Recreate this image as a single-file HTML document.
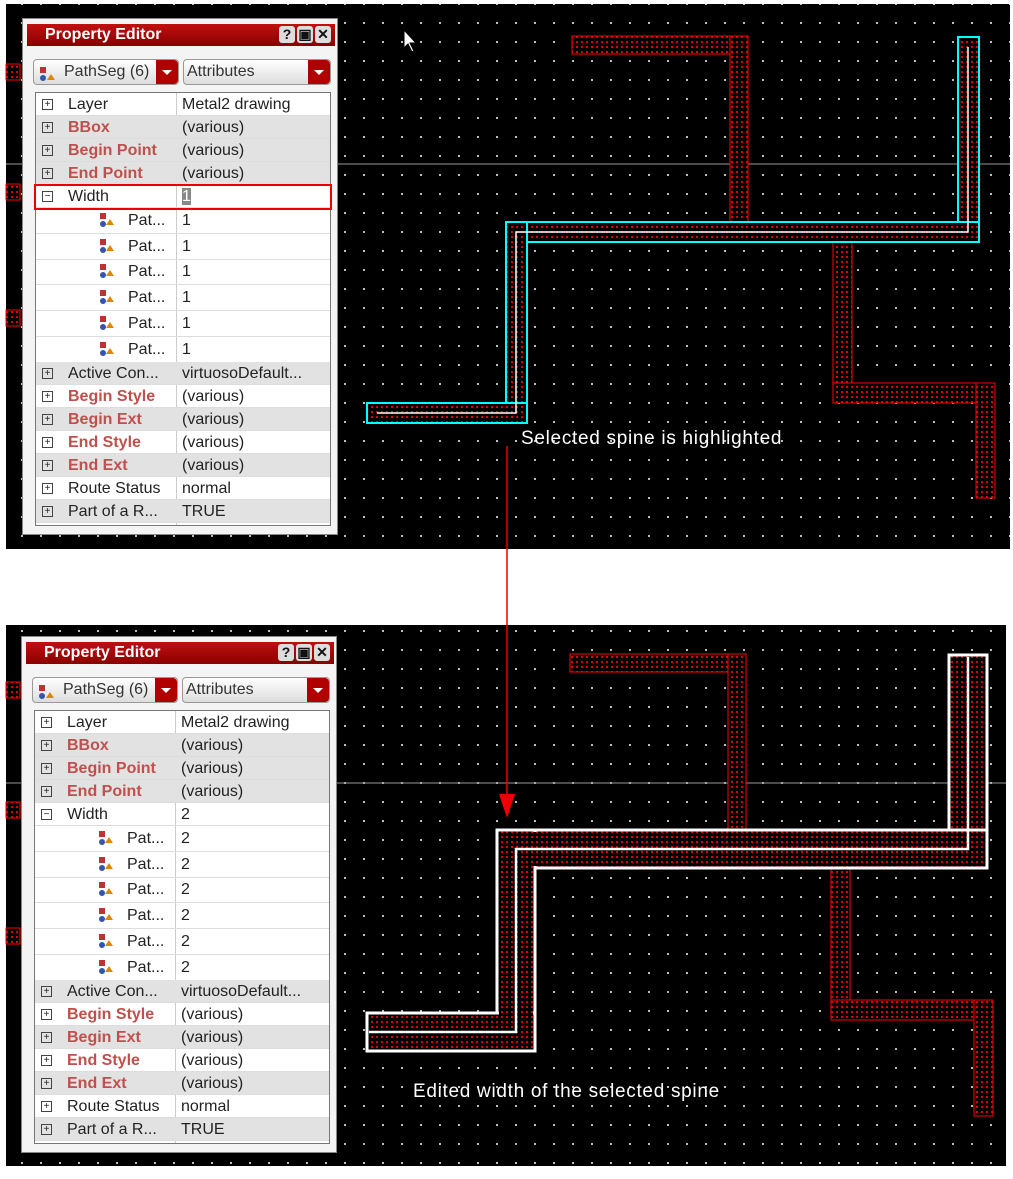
<!DOCTYPE html>
<html><head><meta charset="utf-8"><style>
body{margin:0;background:#fff;width:1013px;height:1179px;position:relative;overflow:hidden;font-family:"Liberation Sans",sans-serif}
svg.bg{position:absolute;left:0;top:0}
.panel{position:absolute;width:316px;height:517px;background:#f4f4f4;border:1px solid #888;box-sizing:border-box}
.title{position:absolute;left:4px;top:5px;width:308px;height:22px;background:linear-gradient(#c01010,#8a0000);color:#fff;font-weight:bold;font-size:16px;line-height:22px;padding-left:18px;box-sizing:border-box}
.btn{position:absolute;top:2px;width:16px;height:17px;background:#ddd;border-radius:3px;color:#111;font-size:14px;line-height:17px;text-align:center;font-weight:bold}
.dd{position:absolute;top:40px;height:26px;background:linear-gradient(#fff,#ddd);border:1px solid #999;border-radius:4px;box-sizing:border-box;font-size:16px;line-height:24px;color:#333}
.dd .ar{position:absolute;right:0;top:0;width:22px;height:24px;background:#b00000;border-radius:0 4px 4px 0}
.dd .ar:after{content:"";position:absolute;left:6px;top:10px;border:5px solid transparent;border-top:5px solid #fff}
.tbl{position:absolute;left:12px;top:73px;width:296px;height:434px;background:#fff;border:1px solid #777;box-sizing:border-box}
.r{position:absolute;left:0;width:294px;font-size:16px;color:#222;border-bottom:1px solid #ddd;box-sizing:border-box}
.r.g{background:#e2e2e2}
.r .pm{position:absolute;left:6px;width:9px;height:9px;border:1px solid #444;font-size:10px;line-height:9px;text-align:center}
.r .l{position:absolute;left:32px}
.r .v{position:absolute;left:146px}
.r.red .l{color:#c0504d;font-weight:bold}
.col{position:absolute;left:140px;top:0;width:1px;height:432px;background:#ccc}
.ic{position:absolute;left:64px;width:14px;height:14px}
.ic i{position:absolute;display:block}
</style></head><body>
<svg class="bg" width="1013" height="1179">
<defs>
<pattern id="dots" width="19" height="19" patternUnits="userSpaceOnUse" x="2" y="3"><rect x="0" y="0" width="2" height="2" fill="#bbb"/></pattern>
<pattern id="h" width="5" height="5" patternUnits="userSpaceOnUse"><rect width="5" height="5" fill="#000"/><rect x="1" y="1" width="2" height="2" fill="#d00"/></pattern>
</defs>
<rect x="6" y="4" width="1004" height="545" fill="#000"/>
<rect x="6" y="4" width="1004" height="545" fill="url(#dots)"/>
<line x1="6" y1="164" x2="1010" y2="164" stroke="#999"/>
<rect x="6" y="625" width="1000" height="541" fill="#000"/>
<rect x="6" y="625" width="1000" height="541" fill="url(#dots)"/>
<line x1="6" y1="783" x2="1006" y2="783" stroke="#999"/>
<g fill="url(#h)" stroke="#f00">
<rect x="6" y="64" width="14" height="16"/><rect x="6" y="184" width="14" height="16"/><rect x="6" y="310" width="14" height="16"/>
<rect x="6" y="682" width="14" height="16"/><rect x="6" y="802" width="14" height="16"/><rect x="6" y="928" width="14" height="16"/>
<rect x="572" y="36" width="176" height="18"/><rect x="730" y="36" width="18" height="204"/>
<rect x="833" y="222" width="19" height="181"/><rect x="833" y="383" width="162" height="20"/><rect x="976" y="383" width="19" height="115"/>
<rect x="570" y="654" width="176" height="18"/><rect x="728" y="654" width="18" height="206"/>
<rect x="831" y="830" width="19" height="190"/><rect x="831" y="1000" width="162" height="20"/><rect x="974" y="1000" width="19" height="116"/>
</g>
<g fill="url(#h)" stroke="#0ff" stroke-width="2">
<rect x="958" y="37" width="21" height="205"/>
<rect x="506" y="222" width="473" height="20"/>
<rect x="506" y="222" width="21" height="201"/>
<rect x="367" y="403" width="160" height="20"/>
</g>
<g fill="none" stroke="#fff" stroke-width="1.5">
<polyline points="377,413 516,413 516,232 968,232 968,47"/>
</g>
<g fill="url(#h)" stroke="#fff" stroke-width="3">
<rect x="949" y="655" width="38" height="213"/>
<rect x="497" y="830" width="490" height="38"/>
<rect x="497" y="830" width="38" height="221"/>
<rect x="367" y="1013" width="168" height="38"/>
</g>
<rect x="499" y="832" width="486" height="34" fill="url(#h)"/>
<rect x="499" y="832" width="34" height="217" fill="url(#h)"/>
<polyline points="369,1032 516,1032 516,849 968,849 968,657" fill="none" stroke="#fff" stroke-width="2.5"/>
<line x1="507" y1="446" x2="507" y2="796" stroke="#e00" stroke-width="1.5"/>
<polygon points="499,794 515,794 507,818" fill="#e00"/>
<text x="521" y="444" fill="#fff" font-size="19" letter-spacing="0.7" font-family="Liberation Sans">Selected spine is highlighted</text>
<text x="413" y="1097" fill="#fff" font-size="19" letter-spacing="0.7" font-family="Liberation Sans">Edited width of the selected spine</text>
<polygon points="404,30 404,48 408,44 412,52 414,51 410,43 416,43" fill="#fff" stroke="#000"/>
</svg>

<div class="panel" style="left:22px;top:18px">
 <div class="title">Property Editor<span class="btn" style="left:252px">?</span><span class="btn" style="left:270px">&#9635;</span><span class="btn" style="left:288px">✕</span></div>
 <div class="dd" style="left:10px;width:146px"><span style="position:absolute;left:6px;top:7px;width:6px;height:6px;background:#b33"></span><span style="position:absolute;left:6px;top:15px;width:6px;height:6px;background:#35a;border-radius:3px"></span><span style="position:absolute;left:13px;top:10px;border:4px solid transparent;border-bottom:6px solid #d80"></span><span style="position:absolute;left:30px">PathSeg (6)</span><span class="ar"></span></div>
 <div class="dd" style="left:160px;width:148px"><span style="position:absolute;left:3px">Attributes</span><span class="ar"></span></div>
 <div class="tbl" id="t1"></div>
</div>
<div class="panel" style="left:21px;top:636px">
 <div class="title">Property Editor<span class="btn" style="left:252px">?</span><span class="btn" style="left:270px">&#9635;</span><span class="btn" style="left:288px">✕</span></div>
 <div class="dd" style="left:10px;width:146px"><span style="position:absolute;left:6px;top:7px;width:6px;height:6px;background:#b33"></span><span style="position:absolute;left:6px;top:15px;width:6px;height:6px;background:#35a;border-radius:3px"></span><span style="position:absolute;left:13px;top:10px;border:4px solid transparent;border-bottom:6px solid #d80"></span><span style="position:absolute;left:30px">PathSeg (6)</span><span class="ar"></span></div>
 <div class="dd" style="left:160px;width:148px"><span style="position:absolute;left:3px">Attributes</span><span class="ar"></span></div>
 <div class="tbl" id="t2"></div>
</div>
<script>
function build(id,w,sel){
 var rows=[["Layer","Metal2 drawing",0,"+"],["BBox","(various)",1,"+"],["Begin Point","(various)",1,"+"],["End Point","(various)",1,"+"],["Width",w,0,"−"]];
 var h='<div class="col"></div>',y=0,hs=[23,23,23,23,23];
 for(var i=0;i<5;i++){var r=rows[i];h+='<div class="r'+(r[2]?' g red':'')+'" style="top:'+y+'px;height:'+hs[i]+'px;line-height:'+hs[i]+'px"><span class="pm" style="top:6px">'+r[3]+'</span><span class="l">'+r[0]+'</span><span class="v">'+(i==4&&sel?'<span style="background:#888;color:#fff">1</span>':r[1])+'</span></div>';
  if(i==4&&sel)h+='<div style="position:absolute;left:-2px;top:'+(y-1)+'px;width:298px;height:26px;border:2px solid #e00;box-sizing:border-box"></div>';
  y+=hs[i];}
 for(var k=0;k<6;k++){h+='<div class="r" style="top:'+y+'px;height:26px;line-height:26px"><span class="ic" style="top:5px"><i style="left:0;top:0;width:6px;height:6px;background:#b33"></i><i style="left:0;top:8px;width:6px;height:6px;background:#35a;border-radius:3px"></i><i style="left:6px;top:2px;border:4px solid transparent;border-bottom:6px solid #d80"></i></span><span class="l" style="left:92px">Pat...</span><span class="v">'+w+'</span></div>';y+=25.7;}
 var rs=[["Active Con...","virtuosoDefault...",1,0],["Begin Style","(various)",0,1],["Begin Ext","(various)",1,1],["End Style","(various)",0,1],["End Ext","(various)",1,1],["Route Status","normal",0,0],["Part of a R...","TRUE",1,0]];
 for(var j=0;j<rs.length;j++){var r=rs[j];h+='<div class="r'+(r[2]?' g':'')+(r[3]?' red':'')+'" style="top:'+y+'px;height:23px;line-height:23px"><span class="pm" style="top:6px">+</span><span class="l">'+r[0]+'</span><span class="v">'+r[1]+'</span></div>';y+=23;}
 document.getElementById(id).innerHTML=h;}
build("t1","1",true);build("t2","2",false);
</script>
</body></html>
